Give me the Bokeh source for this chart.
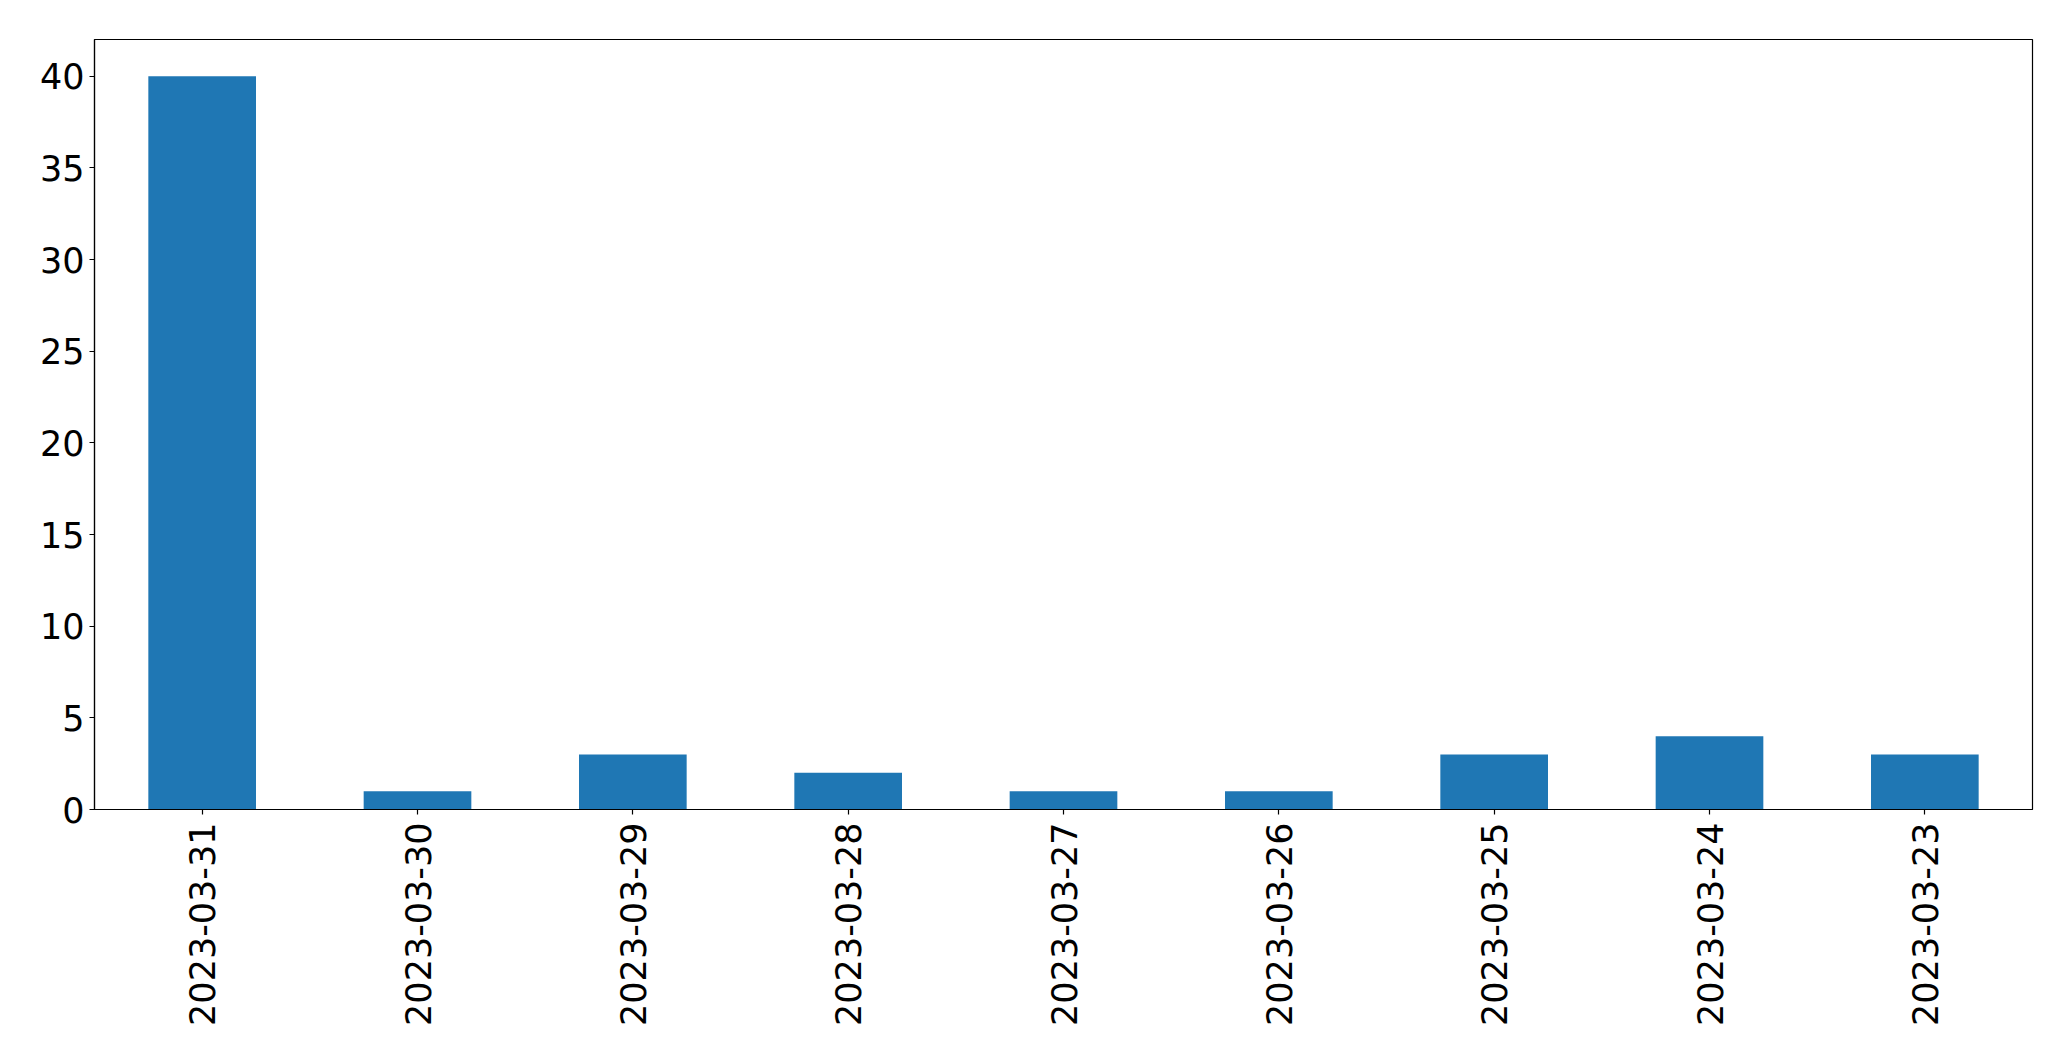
import math
from bokeh.plotting import figure
from bokeh.models import Range1d, FixedTicker, ColumnDataSource
from bokeh.embed import file_html
from bokeh.resources import INLINE

dates = ["2023-03-31", "2023-03-30", "2023-03-29", "2023-03-28", "2023-03-27",
         "2023-03-26", "2023-03-25", "2023-03-24", "2023-03-23"]
counts = [40, 1, 3, 2, 1, 1, 3, 4, 3]
y_ticks = [0, 5, 10, 15, 20, 25, 30, 35, 40]

src = ColumnDataSource(dict(date=dates, count=counts))

p = figure(x_range=dates, y_range=Range1d(0, 42), width=2055, height=1045,
           output_backend="svg", toolbar_location=None,
           min_border_left=94, min_border_top=39, min_border_right=23,
           min_border_bottom=236)

p.vbar(x="date", top="count", width=0.5, source=src, color="#1f77b4", line_color=None)

p.xgrid.visible = False
p.ygrid.visible = False
p.outline_line_color = "black"
p.outline_line_width = 1.2
p.outline_line_alpha = 1

for ax in (p.xaxis[0], p.yaxis[0]):
    ax.major_label_text_font = "DejaVu Sans"
    ax.major_label_text_font_size = "35px"
    ax.major_label_text_color = "black"
    ax.major_tick_out = 5
    ax.major_tick_in = 0
    ax.minor_tick_out = 0
    ax.minor_tick_in = 0
    ax.axis_line_color = "black"
    ax.axis_line_width = 1.2
    ax.major_tick_line_color = "black"
    ax.major_tick_line_width = 1.2

p.yaxis[0].ticker = FixedTicker(ticks=y_ticks)
p.yaxis[0].major_label_standoff = 5
p.xaxis[0].major_label_orientation = math.pi / 2
p.xaxis[0].major_label_standoff = 8
p.xaxis[0].group_text_font_size = "0px"

open("out.html", "w").write(file_html(p, INLINE))
